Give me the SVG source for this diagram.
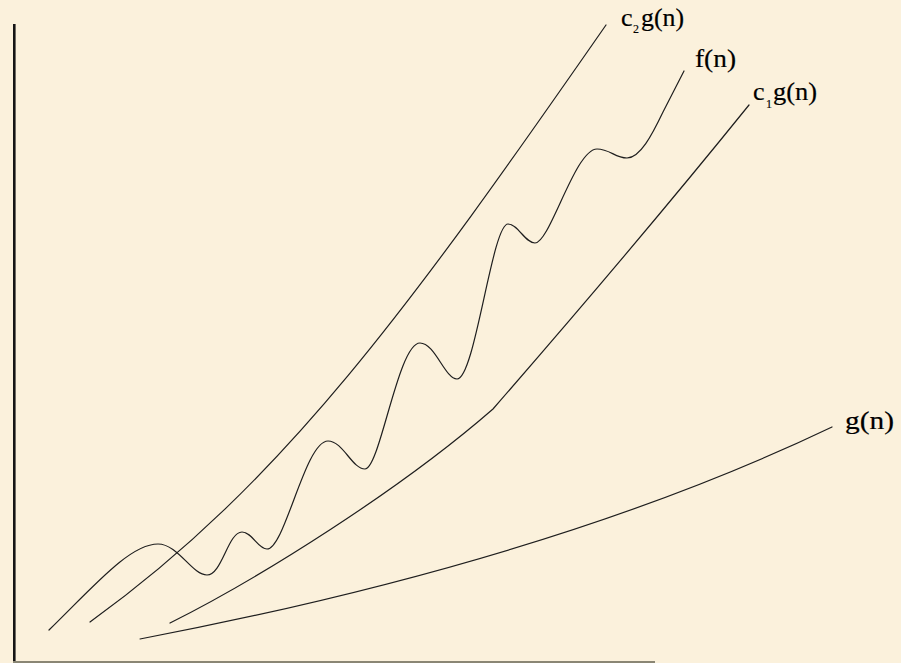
<svg xmlns="http://www.w3.org/2000/svg" width="901" height="663" viewBox="0 0 901 663">
<style>
.bg{fill:#FBF1DC}
.curve{fill:none;stroke:#1e1e1e;stroke-width:1.2;stroke-linecap:round;stroke-linejoin:round}
.lbl{font-family:"Liberation Serif","Times New Roman",serif;font-size:26px;fill:#000;stroke:#000;stroke-width:0.2}
.sub{font-family:"Liberation Serif","Times New Roman",serif;font-size:12px;fill:#000;stroke:#000;stroke-width:0.15}
</style>
<rect class="bg" x="0" y="0" width="901" height="663"/>
<g id="axes">
<line x1="14.3" y1="24" x2="14.3" y2="663" stroke="#151515" stroke-width="2.6"/>
<line x1="13" y1="662" x2="655" y2="662" stroke="#8a8674" stroke-width="2"/>
</g>
<g id="connectors">
<path id="c2g-curve" class="curve" d="M90,622 C284,482 412,304 606,25"/>
<path id="c1g-curve" class="curve" d="M170,623 C260,578 400,490 493,409 C540,355 640,240 749,105"/>
<path id="g-curve" class="curve" d="M140,639 Q554,560 832,427"/>
<path id="f-curve" class="curve" d="M49,630 C95,585 130,544 158,544 C178,544 192,575 207,575 C222,575 228,532 242,532 C252,532 258,549 267,549 C285,549 305,441 328,441 C343,441 352,469 365,469 C380,469 398,343 420,343 C435,343 445,379 457,379 C475,379 492,224 508,224 C518,224 525,243 535,243 C550,243 575,149 597,149 C610,149 615,158 627,158 C640,158 652,135 663,112 L684,71"/>
</g>
<g id="label-c2g">
<text class="lbl" x="621" y="26">c</text>
<text class="sub" x="633" y="33">2</text>
<text class="lbl" x="641" y="26" textLength="43" lengthAdjust="spacingAndGlyphs">g(n)</text>
</g>
<g id="label-f">
<text class="lbl" x="695" y="67" textLength="41" lengthAdjust="spacingAndGlyphs">f(n)</text>
</g>
<g id="label-c1g">
<text class="lbl" x="753" y="100">c</text>
<text class="sub" x="766" y="108">1</text>
<text class="lbl" x="773" y="100" textLength="44" lengthAdjust="spacingAndGlyphs">g(n)</text>
</g>
<g id="label-g">
<text class="lbl" x="845" y="429" textLength="49" lengthAdjust="spacingAndGlyphs">g(n)</text>
</g>
</svg>
